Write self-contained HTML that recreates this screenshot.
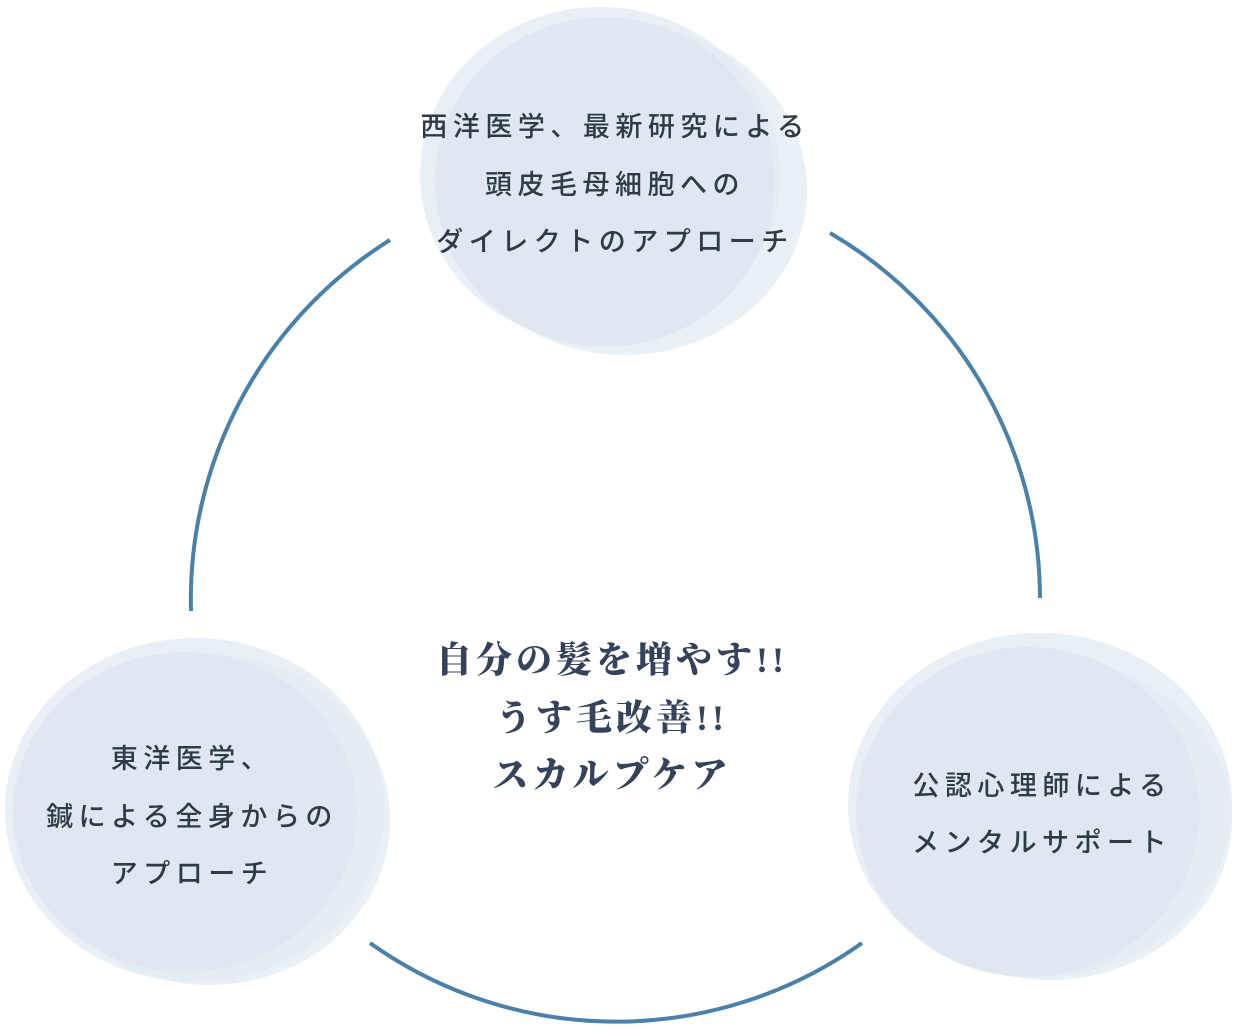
<!DOCTYPE html>
<html><head><meta charset="utf-8"><style>
html,body{margin:0;padding:0;background:#fff;}
svg{display:block}
.s{font-family:"Liberation Sans","Noto Sans CJK JP",sans-serif;font-size:27px;fill:#2f3a48;letter-spacing:5.5px;font-weight:500}
.t{font-family:"Liberation Serif","Noto Serif CJK SC",serif;font-weight:900;font-size:36px;fill:#34425a;letter-spacing:4px}
</style></head><body>
<svg width="1239" height="1030" viewBox="0 0 1239 1030" xmlns="http://www.w3.org/2000/svg">
<g fill="none" stroke="#4a80aa" stroke-width="4">
<path d="M390 240 A424 424 0 0 0 191 611"/>
<path d="M830 233 A424 424 0 0 1 1040 598"/>
<path d="M370 943 A424 424 0 0 0 862 943"/>
</g>
<g>
<ellipse cx="600" cy="175" rx="180" ry="168" fill="#e9eff6"/>
<ellipse cx="625" cy="190" rx="182" ry="165" fill="#e4ecf4" opacity="0.8"/>
<ellipse cx="605" cy="182" rx="170" ry="165" fill="#dfe8f1"/>
<ellipse cx="195" cy="810" rx="190" ry="172" fill="#e9eff6"/>
<ellipse cx="210" cy="820" rx="180" ry="165" fill="#e4ecf4" opacity="0.8"/>
<ellipse cx="185" cy="812" rx="172" ry="160" fill="#dfe8f1"/>
<ellipse cx="1040" cy="805" rx="192" ry="172" fill="#e9eff6"/>
<ellipse cx="1050" cy="820" rx="182" ry="160" fill="#e4ecf4" opacity="0.8"/>
<ellipse cx="1028" cy="812" rx="172" ry="165" fill="#dfe8f1"/>
</g>
<g text-anchor="middle">
<text class="s" x="615" y="136">西洋医学、最新研究による</text>
<text class="s" x="615" y="194">頭皮毛母細胞への</text>
<text class="s" x="615" y="251">ダイレクトのアプローチ</text>
<text class="s" x="192" y="768">東洋医学、</text>
<text class="s" x="192" y="826">鍼による全身からの</text>
<text class="s" x="192" y="883">アプローチ</text>
<text class="s" x="1042" y="795">公認心理師による</text>
<text class="s" x="1042" y="852">メンタルサポート</text>
</g>
<g text-anchor="middle">
<text class="t" x="612" y="672">自分の髪を増やす!!</text>
<text class="t" x="612" y="730">うす毛改善!!</text>
<text class="t" x="612" y="787">スカルプケア</text>
</g>
</svg>
</body></html>
